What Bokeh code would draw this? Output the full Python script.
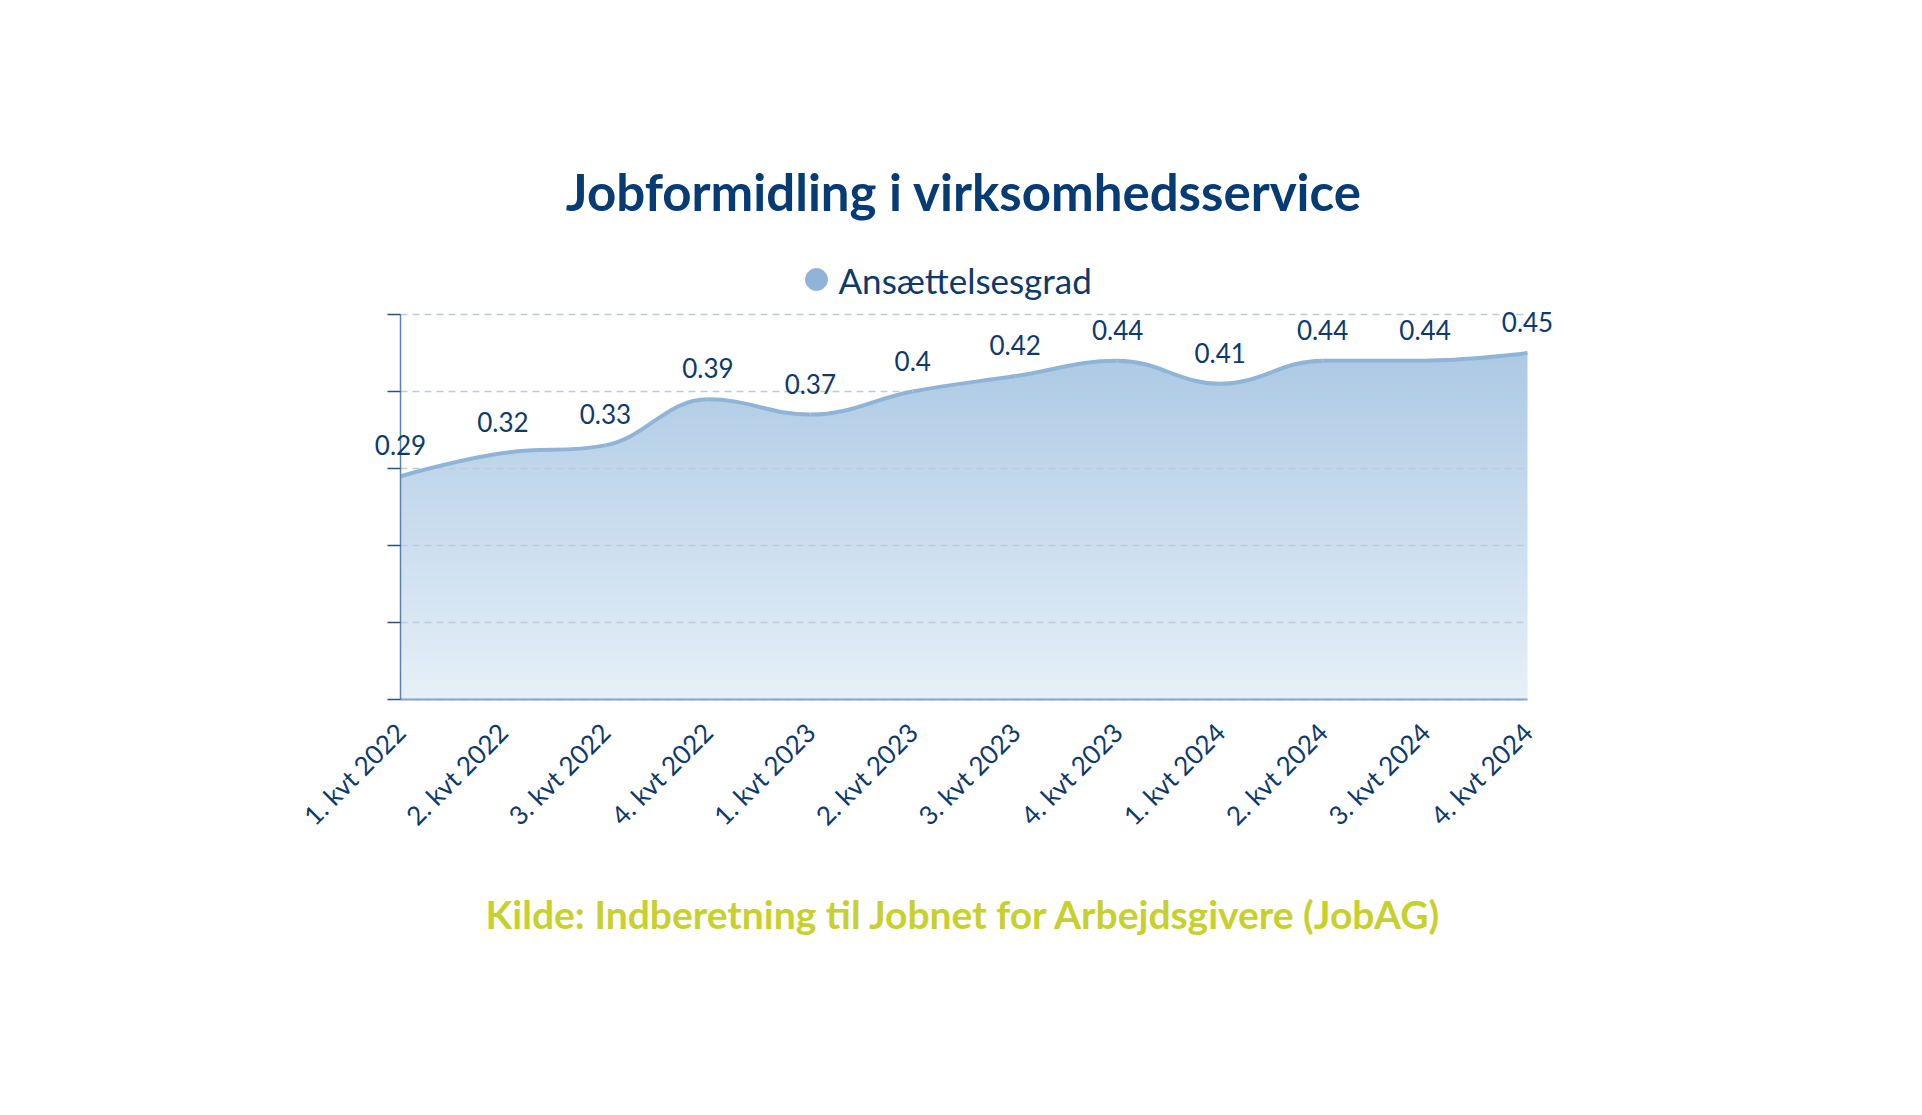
import math
import numpy as np
from bokeh.plotting import figure
from bokeh.models import (Range1d, FixedTicker, Label, LabelSet, ColumnDataSource,
                          CustomJSTickFormatter, Grid)
from bokeh.core.properties import value
from bokeh.embed import file_html
from bokeh.resources import INLINE

# ---------------- data ----------------
categories = ["1. kvt 2022", "2. kvt 2022", "3. kvt 2022", "4. kvt 2022",
              "1. kvt 2023", "2. kvt 2023", "3. kvt 2023", "4. kvt 2023",
              "1. kvt 2024", "2. kvt 2024", "3. kvt 2024", "4. kvt 2024"]
ansaettelsesgrad = [0.29, 0.32, 0.33, 0.39, 0.37, 0.40, 0.42, 0.44, 0.41, 0.44, 0.44, 0.45]
y_ticks = [0.0, 0.1, 0.2, 0.3, 0.4, 0.5]
title_text = "Jobformidling i virksomhedsservice"
series_name = "Ansættelsesgrad"
source_text = "Kilde: Indberetning til Jobnet for Arbejdsgivere (JobAG)"

# ---------------- layout (canvas pixels) ----------------
W, H = 1900, 1095
BORDER_L, BORDER_B = 40, 140
PLOT_L, PLOT_R = 400, 1527          # x of first / last category
Y_ZERO, Y_TOP_TICK = 699, 314       # y of 0 and of the top tick
N = len(categories)
PX_PER_UNIT = (Y_ZERO - Y_TOP_TICK) / y_ticks[-1]
PX_PER_CAT = (PLOT_R - PLOT_L) / (N - 1)
FRAME_BOTTOM = H - BORDER_B

x_start = -(PLOT_L - BORDER_L) / PX_PER_CAT
x_end = (N - 1) + (W - PLOT_R) / PX_PER_CAT
y_start = -(FRAME_BOTTOM - Y_ZERO) / PX_PER_UNIT
y_end = Y_ZERO / PX_PER_UNIT


def dy(py):
    return (Y_ZERO - py) / PX_PER_UNIT


def dx(px):
    return (px - PLOT_L) / PX_PER_CAT


TITLE_COLOR = "#073b73"
TEXT_COLOR = "#0e3a6b"
LINE_COLOR = "#90b4d8"
SOURCE_COLOR = "#c6d12f"
FONT = "Lato"

# ---------------- spline (Highcharts-like smoothing) ----------------
xs = list(range(N))
ys = list(ansaettelsesgrad)
smoothing = 1.5
denom = smoothing + 1
left_c = [None] * N
right_c = [None] * N
for i in range(1, N - 1):
    px_, py_ = xs[i], ys[i]
    lx, ly = xs[i - 1], ys[i - 1]
    nx, ny = xs[i + 1], ys[i + 1]
    lcx = (smoothing * px_ + lx) / denom
    lcy = (smoothing * py_ + ly) / denom
    rcx = (smoothing * px_ + nx) / denom
    rcy = (smoothing * py_ + ny) / denom
    corr = 0.0
    if rcx != lcx:
        corr = ((rcy - lcy) * (rcx - px_)) / (rcx - lcx) + py_ - rcy
    lcy += corr
    rcy += corr
    if lcy > ly and lcy > py_:
        lcy = max(ly, py_)
        rcy = 2 * py_ - lcy
    elif lcy < ly and lcy < py_:
        lcy = min(ly, py_)
        rcy = 2 * py_ - lcy
    if rcy > ny and rcy > py_:
        rcy = max(ny, py_)
        lcy = 2 * py_ - rcy
    elif rcy < ny and rcy < py_:
        rcy = min(ny, py_)
        lcy = 2 * py_ - rcy
    left_c[i] = (lcx, lcy)
    right_c[i] = (rcx, rcy)

seg = dict(x0=[], y0=[], x1=[], y1=[], cx0=[], cy0=[], cx1=[], cy1=[])
for i in range(1, N):
    c0 = right_c[i - 1] if right_c[i - 1] is not None else (xs[i - 1], ys[i - 1])
    c1 = left_c[i] if left_c[i] is not None else (xs[i], ys[i])
    seg["x0"].append(xs[i - 1]); seg["y0"].append(ys[i - 1])
    seg["x1"].append(xs[i]); seg["y1"].append(ys[i])
    seg["cx0"].append(c0[0]); seg["cy0"].append(c0[1])
    seg["cx1"].append(c1[0]); seg["cy1"].append(c1[1])

t = np.linspace(0, 1, 48)
cx_all, cy_all = [], []
for k in range(N - 1):
    P0 = np.array([seg["x0"][k], seg["y0"][k]])
    P1 = np.array([seg["cx0"][k], seg["cy0"][k]])
    P2 = np.array([seg["cx1"][k], seg["cy1"][k]])
    P3 = np.array([seg["x1"][k], seg["y1"][k]])
    tt = t[:, None]
    pts = ((1 - tt) ** 3) * P0 + 3 * ((1 - tt) ** 2) * tt * P1 + 3 * (1 - tt) * tt ** 2 * P2 + tt ** 3 * P3
    cx_all.extend(pts[:, 0].tolist())
    cy_all.extend(pts[:, 1].tolist())

# ---------------- figure ----------------
p = figure(width=W, height=H, output_backend="svg", toolbar_location=None,
           x_range=Range1d(x_start, x_end), y_range=Range1d(y_start, y_end),
           min_border_left=BORDER_L, min_border_right=0,
           min_border_top=0, min_border_bottom=BORDER_B, tools="")
p.outline_line_color = None
p.background_fill_color = "white"
p.border_fill_color = "white"

# gradient fill under the curve
rows = 400
grad = np.empty((rows, 2), dtype=np.uint32)
view = grad.view(dtype=np.uint8).reshape((rows, 2, 4))
bottom_rgb = np.array([230, 240, 248], dtype=float)
top_rgb = np.array([166, 197, 226], dtype=float)
f = np.linspace(0, 1, rows)[:, None]
rgb = bottom_rgb * (1 - f) + top_rgb * f
for c in range(3):
    view[:, :, c] = np.round(rgb[:, c])[:, None].astype(np.uint8)
view[:, :, 3] = 255
p.image_rgba(image=[grad], x=0, y=0, dw=N - 1, dh=y_ticks[-1], level="image")

top = y_ticks[-1] + 0.002
mask_x = [-0.01] + cx_all + [N - 1 + 0.01, N - 1 + 0.01, -0.01]
mask_y = [cy_all[0]] + cy_all + [cy_all[-1], top, top]
p.patch(mask_x, mask_y, fill_color="white", line_color="white", line_width=1, level="image")

# grid lines
p.xgrid.visible = False
p.ygrid.visible = False
GRID_COLOR = "#bccbde"
if "cross_bounds" in Grid.properties():
    grid = Grid(dimension=1, ticker=FixedTicker(ticks=y_ticks), level="underlay",
                grid_line_color=GRID_COLOR, grid_line_dash="7 5", grid_line_width=1.5)
    grid.cross_bounds = (0, N - 1)
    p.add_layout(grid)
else:
    p.segment(x0=[0] * len(y_ticks), y0=y_ticks, x1=[N - 1] * len(y_ticks), y1=y_ticks,
              line_color=GRID_COLOR, line_dash="7 5", line_width=1.5, level="underlay")

# spline line
p.bezier(source=ColumnDataSource(seg), x0="x0", y0="y0", x1="x1", y1="y1",
         cx0="cx0", cy0="cy0", cx1="cx1", cy1="cy1",
         line_color=LINE_COLOR, line_width=4)

# axes
p.yaxis.fixed_location = 0
p.yaxis.ticker = FixedTicker(ticks=y_ticks)
p.yaxis.bounds = (y_ticks[0], y_ticks[-1])
p.yaxis.formatter = CustomJSTickFormatter(code="return ''")
p.yaxis.axis_line_color = "#5a82b0"
p.yaxis.axis_line_width = 1.5
p.yaxis.major_tick_line_color = "#2a5283"
p.yaxis.major_tick_line_width = 1.5
p.yaxis.major_tick_out = 13
p.yaxis.major_tick_in = 0
p.yaxis.minor_tick_line_color = None

p.xaxis.fixed_location = 0
p.xaxis.bounds = (0, N - 1)
p.xaxis.ticker = FixedTicker(ticks=list(range(N)))
p.xaxis.major_label_overrides = {i: c for i, c in enumerate(categories)}
p.xaxis.major_label_orientation = math.pi / 4
p.xaxis.major_label_text_font = FONT
p.xaxis.major_label_text_font_size = "26px"
p.xaxis.major_label_text_color = TEXT_COLOR
p.xaxis.major_label_standoff = 22
p.xaxis.axis_line_color = "#88a5c5"
p.xaxis.axis_line_width = 2
p.xaxis.major_tick_line_color = None
p.xaxis.minor_tick_line_color = None

# data labels
lab_src = ColumnDataSource(dict(x=xs, y=ys, text=[f"{v:g}" for v in ansaettelsesgrad]))
p.add_layout(LabelSet(source=lab_src, x="x", y="y", text="text", y_offset=21,
                      text_align="center", text_baseline="alphabetic",
                      text_font=value(FONT), text_font_size=value("26px"),
                      text_color=TEXT_COLOR))

# title
p.add_layout(Label(x=(N - 1) / 2, y=dy(191), text=title_text, text_align="center",
                   text_baseline="alphabetic", text_font=FONT, text_font_style="bold",
                   text_font_size="51px", text_color=TITLE_COLOR))

# legend
p.scatter(x=[dx(816)], y=[dy(279)], size=22, marker="circle",
          fill_color=LINE_COLOR, line_color=LINE_COLOR)
p.add_layout(Label(x=dx(838), y=dy(279), text=series_name, text_align="left",
                   text_baseline="middle", text_font=FONT, text_font_size="35px",
                   text_color=TEXT_COLOR))

# source
p.add_layout(Label(x=(N - 1) / 2, y=dy(913), text=source_text, text_align="center",
                   text_baseline="alphabetic", text_font=FONT, text_font_style="bold",
                   text_font_size="39px", text_color=SOURCE_COLOR))

open("out.html", "w").write(file_html(p, INLINE))
